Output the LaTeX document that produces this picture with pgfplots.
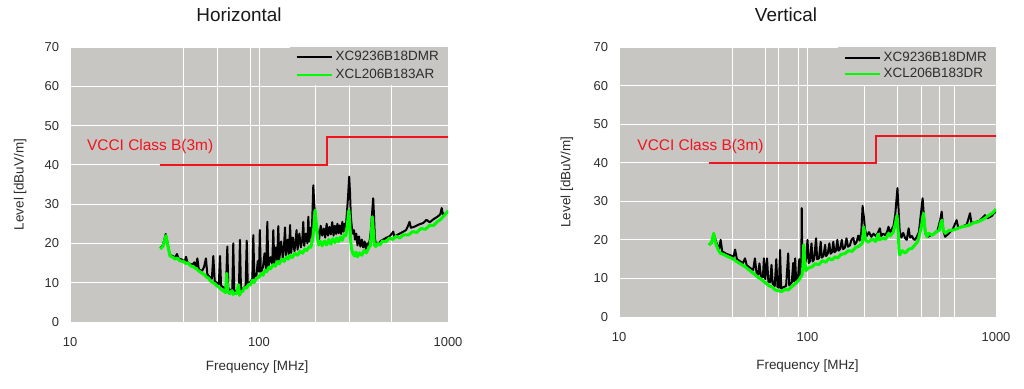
\documentclass[border=0pt]{standalone}
\usepackage{pgfplots}
\pgfplotsset{compat=1.18}
\usepackage{fontspec}
\setmainfont{Liberation Sans}
\definecolor{bggray}{RGB}{200,198,194}
\definecolor{txtgray}{RGB}{45,45,45}
\definecolor{limred}{RGB}{240,20,30}
\definecolor{emigreen}{RGB}{0,250,0}
\newcommand\tickfont{\fontsize{13}{15}\selectfont}
\newcommand\labfont{\fontsize{13.5}{16}\selectfont}

\pgfplotsset{emi/.style={
  scale only axis, anchor=south west,
  xmin=10, xmax=1000, ymin=0, ymax=70,
  axis background/.style={fill=bggray},
  axis line style={draw=none},
  major tick length=0pt, minor tick length=0pt,
  ytick={0,10,20,30,40,50,60,70},
  xmajorgrids, ymajorgrids,
  grid style={white, line width=1bp},
  /pgf/number format/assume math mode=true,
  tick label style={font=\tickfont, color=txtgray},
  yticklabel style={xshift=-7.5bp},
  xticklabel style={yshift=-12bp},
  label style={font=\labfont, color=txtgray},
  legend cell align=left,
  legend image code/.code={\draw[##1] (0bp,0bp) -- (35bp,0bp);},
  legend style={at={(1,1)}, anchor=north east, fill=bggray, draw=none,
     font=\labfont, text=txtgray, inner xsep=6bp, inner ysep=2bp},
}}

\begin{document}
\begin{tikzpicture}
\path[use as bounding box] (0,0) rectangle (1024bp,389bp);

\node[font=\fontsize{19}{22}\selectfont, text=black!90] at (239bp,374bp) {Horizontal};
\node[font=\fontsize{19}{22}\selectfont, text=black!90] at (786bp,374bp) {Vertical};

% ---------------- Horizontal ----------------
\begin{axis}[xmode=log, emi, at={(70bp,67bp)}, width=378bp, height=275bp,
  xtick={10,40,60,90,100,200,300,500,1000}, xticklabels={10,,,,100,,,,1000},
  xlabel={Frequency [MHz]}, ylabel={Level [dBuV/m]},
  xlabel style={at={(axis description cs:0.495,-0.164)}, anchor=center},
  ylabel style={at={(axis description cs:-0.132,0.5)}, anchor=center},
  legend style={inner ysep=1bp, nodes={inner ysep=0bp, inner xsep=3bp, text height=12bp, text depth=6bp}}]
\addlegendimage{draw=black, line width=1.8bp}
\addlegendentry{XC9236B18DMR}
\addlegendimage{draw=emigreen, line width=1.8bp}
\addlegendentry{XCL206B183AR}
\addplot[black, line width=2bp, line join=round, forget plot] coordinates {
(30,18.8) (31,19.5) (32.1,22.4) (33,19.5) (33.8,17.0) (35,16.8) (36,16.4) (36.8,17.3) (37.5,16.2) (39,15.9)
(40.5,15.4) (41.1,16.6) (41.7,15.3) (43,14.8) (44.5,14.6) (45.5,15.2) (46.4,14.0) (47.2,16.2) (48,13.4) (50,13.0)
(51.2,14.0) (52.4,16.2) (53.3,12.1) (55,11.4) (56.3,11.0) (57.3,16.8) (58.3,10.4) (60,9.9) (61.3,9.6) (62.2,16.8)
(63,9.2) (65,8.8) (66.8,8.5) (68,19.2) (68.8,8.3) (70.5,8.2) (72.2,8.0) (73.1,20.0) (74,7.8) (76,7.9)
(78.3,8.2) (79.3,20.9) (80.3,8.0) (82.5,8.6) (85,9.2) (86.1,20.7) (87.2,9.5) (90,10.2) (92.2,11.0) (93.3,22.1)
(94.5,11.2) (97,12.0) (98.5,15.5) (100,12.8) (101,23.4) (102.3,12.6) (105,14.0) (107,17.5) (109,13.5) (110.7,25.5) (112,14.0)
(115,16.5) (117.5,14.8) (119,23.4) (120.5,15.0) (123,19.0) (124.8,15.4) (126.5,24.4) (128,15.8) (131,20.5) (133.5,16.4)
(135.5,19.0) (137.3,24.1) (139,16.8) (142,21.0) (144.3,17.2) (146,24.7) (148,17.6) (151,21.5) (154,18.0) (156,20.5)
(158,23.4) (160,18.4) (163.5,22.5) (166.5,19.0) (169.5,21.0) (171.5,25.5) (173.5,19.4) (177,22.5) (180.5,20.0) (182.4,26.8)
(184.5,20.5) (187.5,24.0) (190,21.5) (193.8,34.8) (196,30) (199,26) (202,24.5) (205,22.5) (208,21.0) (212,24.5)
(216,22.0) (220,23.8) (224,21.5) (228,25.0) (232,22.0) (236,24.2) (240,22.3) (244,25.4) (248,22.0) (252,24.5)
(256,22.4) (260,25.0) (264,22.6) (268,24.6) (272,22.4) (276,25.5) (280,23.0) (284,25.0) (288,24.0) (292,28.0)
(296,32.0) (300,37.0) (303,33.0) (306,27.0) (310,24.0) (314,22.5) (318,23.4) (322,21.0) (327,22.5) (332,19.5)
(338,21.8) (344,19.2) (350,21.0) (356,19.0) (362,20.5) (368,18.6) (374,20.0) (380,19.6) (386,21.0) (392,24.0)
(397,28.0) (402,31.5) (406,27.0) (410,21.5) (415,19.8) (422,20.2) (430,20.0) (440,20.6) (455,21.0) (470,21.4)
(490,21.8) (505,22.5) (513,23.0) (520,21.8) (540,22.2) (560,22.6) (580,23.0) (600,23.4) (615,24.5) (626,25.5)
(636,24.0) (660,24.2) (700,24.8) (740,25.2) (770,26.0) (800,25.4) (840,26.2) (880,26.8) (910,27.4) (926,29.0)
(940,27.4) (970,27.6) (1000,28.1)
};
\addplot[emigreen, line width=3bp, line join=round, forget plot] coordinates {
(30,18.6) (31,19.2) (32.2,22.0) (33,19.2) (33.8,16.8) (35,16.5) (36,16.0) (37,16.3) (38,15.6) (39.8,15.4)
(41,14.9) (42,15.1) (43.5,14.3) (45,14.0) (46.8,13.5) (48,13.0) (50,12.4) (51.5,12.0) (52.8,11.4) (54,11.2)
(55,10.6) (57,10.0) (58.3,9.8) (59.6,9.3) (61,9.0) (63,8.3) (65,7.9) (66.5,7.5) (67.5,12.4) (68.3,7.6)
(70,7.2) (72,8.0) (73,7.0) (74,7.4) (76,7.2) (78,9.5) (79,6.8) (80,7.6) (82,7.8) (84,8.8)
(86,8.6) (88,9.6) (90,9.4) (92,10.6) (94,10.0) (97,11.2) (100,11.4) (103,12.4) (105,11.9) (108,13.2)
(110,12.8) (113,14.0) (115,13.5) (119,14.6) (122,14.2) (125,15.4) (128,14.8) (132,16.0) (136,15.4) (140,16.6)
(143,16.0) (146,17.0) (150,16.4) (155,17.5) (160,17.0) (165,18.0) (170,17.5) (175,18.6) (179,18.2) (184,19.2)
(188,19.0) (192,21) (195,24) (198,28.5) (201,25) (204,21.5) (207,19.6) (212,20.5) (216,19.4) (222,20.6)
(228,19.6) (234,21.0) (240,19.8) (246,21.2) (252,20.2) (258,21.4) (264,20.4) (270,21.6) (276,20.8) (282,22.2)
(288,22.0) (292,24.0) (296,26.5) (299,28.5) (302,25.5) (305,21.0) (309,18.6) (314,17.4) (320,16.8) (326,17.8)
(332,16.6) (340,17.6) (350,17.0) (360,18.2) (370,17.6) (380,18.8) (388,19.5) (393,22.5) (398,26.8) (403,23.0)
(408,19.6) (415,19.2) (425,20.0) (436,19.6) (450,20.6) (470,20.4) (490,21.4) (510,21.0) (530,21.8) (557,21.4)
(580,22.2) (620,22.2) (650,23.0) (683,22.8) (720,23.8) (760,23.6) (800,24.6) (840,24.6) (880,25.6) (910,26.0)
(940,26.8) (970,27.4) (1000,28.3)
};
\addplot[limred, line width=1.8bp, forget plot] coordinates {(30,40) (230,40) (230,47) (1000,47)};
\node[anchor=west, text=limred, font=\fontsize{15.5}{18}\selectfont] at (axis cs:11.8,44.6) {VCCI Class B(3m)};
\end{axis}

% ---------------- Vertical ----------------
\begin{axis}[xmode=log, emi, at={(619bp,72bp)}, width=377bp, height=270bp,
  xtick={10,40,60,70,90,100,200,300,400,500,600,1000}, xticklabels={10,,,,,100,,,,,,1000},
  xlabel={Frequency [MHz]}, ylabel={Level [dBuV/m]},
  xlabel style={at={(axis description cs:0.5,-0.181)}, anchor=center},
  ylabel style={at={(axis description cs:-0.138,0.5)}, anchor=center},
  legend style={inner ysep=3bp, nodes={inner ysep=0bp, inner xsep=3bp, text height=11bp, text depth=5bp}}]
\addlegendimage{draw=black, line width=1.8bp}
\addlegendentry{XC9236B18DMR}
\addlegendimage{draw=emigreen, line width=1.8bp}
\addlegendentry{XCL206B183DR}
\addplot[black, line width=2bp, line join=round, forget plot] coordinates {
(30,18.8) (31,19.2) (32,21.2) (33,19.0) (34,17.6) (34.6,20.0) (35.3,17.0) (37,16.4) (39,16.0) (40.5,15.6)
(41.3,17.5) (42.2,15.0) (44,14.4) (45.5,14.0) (46.6,15.2) (47.6,13.4) (50,12.6) (51.5,12.2) (52.6,15.2) (53.6,11.6)
(54.8,11.0) (55.6,13.9) (56.6,10.6) (58,10.3) (58.7,15.2) (59.7,9.8) (61,15.2) (62,9.2) (63.4,9.0) (64.4,13.5)
(65.4,8.6) (67,8.0) (68.3,15.0) (69.3,7.8) (70.5,7.6) (71.5,17.4) (72.5,7.4) (75,7.8) (77,8.0) (79,16.5)
(80,8.2) (82.5,9.0) (84,14) (85,9.2) (86,15.2) (87,9.6) (89,10.0) (90.5,15.0) (91.5,10.6) (92.6,11.0)
(93.2,28.2) (93.9,12.0) (96,14.0) (98,14.5) (100,20.0) (101.5,14.0) (103,14.4) (105,19.1) (106.5,14.4) (108.5,15.0)
(111,20.4) (112.5,15.0) (115,15.2) (117.5,19.5) (119,15.4) (121.5,15.8) (124,18.7) (125.5,15.8) (128,16.4) (130.6,19.1)
(132.5,16.4) (135,16.8) (137,19.5) (139,16.8) (141.5,17.2) (144,20.0) (146,17.2) (149,17.6) (152,20.0) (154.5,17.6)
(158,18.0) (161,20.4) (164,18.2) (168,18.6) (171,20.0) (175,20.5) (178,18.8) (182,19.4) (186,21.1) (189,19.8)
(193,22) (196,28.8) (199,26) (202,22.6) (206,21.0) (212,22.0) (218,20.8) (224,21.6) (230,21.0) (236,21.8)
(242,23.0) (246,21.0) (252,21.6) (258,21.2) (264,22.0) (269,23.4) (274,21.6) (280,22.8) (286,23.6) (292,26.5)
(296,30) (300,33.4) (304,28) (308,22.5) (315,20.6) (322,21.8) (330,20.4) (336,20.0) (344,23.0) (350,20.6)
(358,21.0) (365,20.2) (372,20.0) (380,20.8) (390,22.0) (398,26.0) (408,30.8) (416,25.0) (424,21.4) (437,20.8)
(450,21.2) (470,21.6) (490,22.5) (505,25.0) (515,27.3) (525,22.5) (537,20.8) (560,21.6) (590,22.8) (618,25.1)
(630,23.2) (660,23.4) (700,24.0) (728,26.9) (740,24.4) (780,24.6) (820,25.0) (874,26.4) (900,25.6) (950,26.2)
(988,27.3) (1000,27.0)
};
\addplot[emigreen, line width=3bp, line join=round, forget plot] coordinates {
(30,18.6) (31,19.4) (31.8,21.7) (32.6,19.0) (33.5,17.6) (34.5,16.5) (36,16.2) (38,15.6) (39.8,15.2) (42,14.4)
(44,13.8) (46.8,13.0) (49,12.2) (52,11.2) (55,10.2) (57.4,9.6) (60,8.8) (63,8.0) (65,7.8) (67.5,7.0)
(70,6.8) (73.2,6.6) (76,7.2) (79,7.0) (82.7,7.9) (86,8.6) (90,9.6) (93.5,10.9) (94.5,13) (95.4,18.7)
(96.5,15) (98,12.0) (100,12.6) (105.6,13.0) (110,13.8) (115,13.6) (120,14.6) (125,14.2) (130,15.2) (135,14.8)
(140,15.6) (145,15.3) (150,16.2) (158.6,16.5) (165,17.2) (172,17.0) (180,18.0) (188,18.4) (195,19.1) (199,23.4)
(203,20.0) (210,19.4) (220,20.2) (230,19.6) (236.7,21.5) (240,20.0) (250,20.4) (260,20.2) (269,21.7) (275,21.0)
(285,22.0) (292,24.0) (298.5,26.4) (303,22) (306,17.0) (309,16.1) (318,17.2) (330,16.6) (345,17.6) (358,17.8)
(370,18.6) (385,19.6) (400,23.0) (413,26.9) (420,22.5) (430,20.8) (439,21.7) (460,21.2) (480,22.0) (500,22.5)
(510,24.5) (517,25.1) (525,22.5) (538,21.7) (560,22.4) (600,22.6) (660,23.4) (720,23.8) (760,24.4) (809,24.7)
(860,25.4) (920,26.4) (960,27.0) (991,27.7) (1000,28.0)
};
\addplot[limred, line width=1.8bp, forget plot] coordinates {(30,40) (230,40) (230,47) (1000,47)};
\node[anchor=west, text=limred, font=\fontsize{15.5}{18}\selectfont] at (axis cs:12,44.2) {VCCI Class B(3m)};
\end{axis}
\end{tikzpicture}
\end{document}
